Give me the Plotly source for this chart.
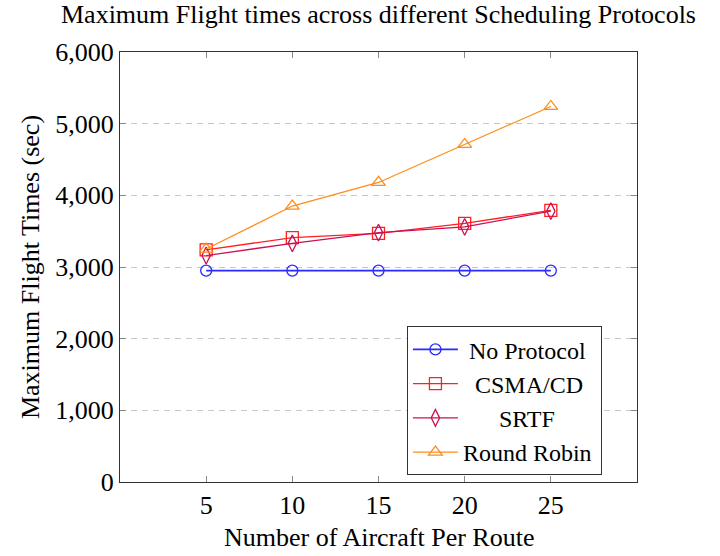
import plotly.graph_objects as go

aircraft = [5, 10, 15, 20, 25]
no_protocol = [2950, 2950, 2950, 2950, 2950]
csma_cd = [3240, 3410, 3470, 3610, 3790]
srtf = [3160, 3330, 3480, 3560, 3780]
round_robin = [3250, 3850, 4180, 4710, 5240]

y_ticks = [0, 1000, 2000, 3000, 4000, 5000, 6000]
x_ticks = [5, 10, 15, 20, 25]

NB = "\u00a0"
series = [
    (NB + "No Protocol" + NB, no_protocol, "#2a2aff", "circle-open", 11, 1.8),
    (NB * 2 + "CSMA/CD" + NB * 2, csma_cd, "#ff2020", "square-open", 12, 1.3),
    (NB * 6 + "SRTF" + NB * 6, srtf, "#cc1055", "diamond-tall-open", 12, 1.3),
    ("Round Robin", round_robin, "#ff8c1a", "triangle-up-open", 12, 1.2),
]

FONT = "Liberation Serif, Times New Roman, Times, serif"
W, H = 720, 556
fig = go.Figure()
for name, ys, color, sym, size, lw in series:
    fig.add_trace(go.Scatter(
        x=aircraft, y=ys, name=name, mode="lines+markers",
        line=dict(color=color, width=lw),
        marker=dict(symbol=sym, size=size, color=color, line=dict(width=1.3, color=color)),
    ))

fig.update_layout(
    width=W, height=H,
    margin=dict(l=120, r=83, t=52, b=74),
    paper_bgcolor="white", plot_bgcolor="white",
    font=dict(family=FONT, size=26, color="black"),
    separators=".,",
    title=dict(text="Maximum Flight times across different Scheduling Protocols",
               x=0.5, xref="paper", y=1 - 14 / H, yref="container", yanchor="middle",
               font=dict(family=FONT, size=26, color="black")),
    legend=dict(x=0.555, y=0.362, xanchor="left", yanchor="top",
                bgcolor="white", bordercolor="#333333", borderwidth=1,
                font=dict(family=FONT, size=24, color="black"),
                itemwidth=45, tracegroupgap=0),
    showlegend=True,
    annotations=[dict(text="Number of Aircraft Per Route", xref="paper", yref="paper",
                      x=0.5, y=-55 / 430, xanchor="center", yanchor="middle",
                      showarrow=False, font=dict(family=FONT, size=26, color="black"))],
)
fig.update_xaxes(
    range=[0, 30], tickvals=x_ticks, ticks="inside", ticklen=6, tickcolor="#888888",
    showline=True, linecolor="#333333", linewidth=1.2, mirror="allticks",
    showgrid=False, zeroline=False, tickfont=dict(family=FONT, size=26),
)
fig.update_yaxes(
    range=[0, 6000], tickvals=y_ticks, tickformat=",d", ticks="inside", ticklen=6, tickcolor="#888888",
    showline=True, linecolor="#333333", linewidth=1.2, mirror="allticks",
    showgrid=True, gridcolor="#c8c8c8", griddash="6px,5px", gridwidth=1, zeroline=False,
    tickfont=dict(family=FONT, size=26),
    title=dict(text="Maximum Flight Times (sec)", standoff=8, font=dict(family=FONT, size=26)),
)
fig.write_html("out.html", config={"displayModeBar": False},
               post_script="document.body.style.margin='0';document.body.style.overflow='hidden';")
